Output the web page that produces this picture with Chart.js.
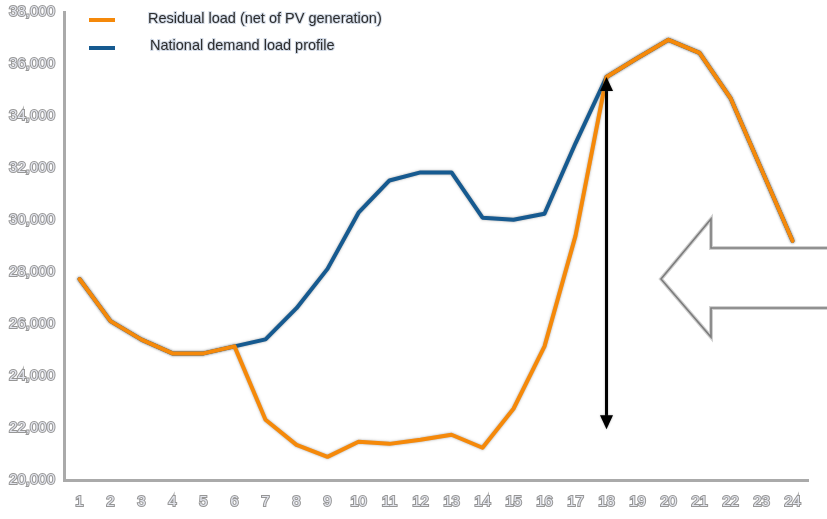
<!DOCTYPE html>
<html>
<head>
<meta charset="utf-8">
<script src="https://cdn.jsdelivr.net/npm/chart.js@4"></script>
<style>
  html, body { margin: 0; padding: 0; background: #ffffff; }
  #wrap { width: 827px; height: 519px; position: relative; }
</style>
</head>
<body>
<div id="wrap"><canvas id="c" width="827" height="519"></canvas></div>
<script>
// Hours of the day
const hours = ['1','2','3','4','5','6','7','8','9','10','11','12','13','14','15','16','17','18','19','20','21','22','23','24'];

// Residual load after PV generation (MW)
const residualLoad = [27730, 26110, 25400, 24870, 24870, 25140, 22320, 21350, 20890, 21470, 21390, 21550,
                      21740, 21240, 22740, 25140, 29390, 35500, 36230, 36930, 36430, 34690, 31940, 29200];

// National demand load profile (MW)
const nationalDemand = [27730, 26110, 25400, 24870, 24870, 25140, 25410, 26610, 28120, 30280, 31520, 31830,
                        31830, 30090, 30010, 30240, 32950, 35500, 36230, 36930, 36430, 34690, 31940, 29200];

// Y axis range and step
const yMin = 20000;
const yMax = 38000;
const yStep = 2000;

// Ramp arrow at hour 18: from evening peak down to the midday residual level
const rampHour = '18';
const rampTop = 35500;
const rampBottom = 21950;

const seriesNames = ['Residual load (net of PV generation)', 'National demand load profile'];
const ORANGE = '#f5890a';
const BLUE = '#165a90';

const haloPlugin = {
  id: 'halo',
  beforeDatasetDraw(chart) {
    const ctx = chart.ctx;
    ctx.save();
    ctx.shadowColor = 'rgba(90,90,90,0.55)';
    ctx.shadowBlur = 2.5;
  },
  afterDatasetDraw(chart) {
    chart.ctx.restore();
  }
};

const decorPlugin = {
  id: 'decor',
  afterDatasetsDraw(chart) {
    const ctx = chart.ctx;
    const x = chart.scales.x;
    const y = chart.scales.y;

    // vertical double-headed arrow
    const ax = x.getPixelForValue(hours.indexOf(rampHour));
    const yTop = y.getPixelForValue(rampTop);
    const yBot = y.getPixelForValue(rampBottom);
    ctx.save();
    ctx.shadowColor = 'rgba(90,90,90,0.5)';
    ctx.shadowBlur = 2;
    ctx.strokeStyle = '#000';
    ctx.fillStyle = '#000';
    ctx.lineWidth = 3;
    ctx.beginPath();
    ctx.moveTo(ax, yTop + 10);
    ctx.lineTo(ax, yBot - 10);
    ctx.stroke();
    ctx.beginPath();
    ctx.moveTo(ax, yTop);
    ctx.lineTo(ax - 6.5, yTop + 14);
    ctx.lineTo(ax + 6.5, yTop + 14);
    ctx.closePath();
    ctx.fill();
    ctx.beginPath();
    ctx.moveTo(ax, yBot);
    ctx.lineTo(ax - 6.5, yBot - 14);
    ctx.lineTo(ax + 6.5, yBot - 14);
    ctx.closePath();
    ctx.fill();
    ctx.restore();

    // large hollow arrow pointing left at the right edge
    const w = chart.width;
    ctx.save();
    ctx.beginPath();
    ctx.moveTo(w + 2, 248);
    ctx.lineTo(711, 248);
    ctx.lineTo(711, 219);
    ctx.lineTo(661, 279);
    ctx.lineTo(711, 337);
    ctx.lineTo(711, 308);
    ctx.lineTo(w + 2, 308);
    ctx.lineJoin = 'miter';
    ctx.fillStyle = '#ffffff';
    ctx.fill();
    ctx.strokeStyle = '#d0d0d0';
    ctx.lineWidth = 4;
    ctx.stroke();
    ctx.strokeStyle = '#7c7c7c';
    ctx.lineWidth = 1.6;
    ctx.stroke();
    ctx.restore();

    // legend
    const items = chart.data.datasets.map((d, i) => ({ label: d.label, color: d.borderColor, y: [20, 48][i], tx: [148, 150][i], ty: [19, 46][i] }));
    ctx.save();
    items.forEach(it => {
      ctx.fillStyle = it.color;
      ctx.fillRect(89, it.y - 2, 26, 4);
      ctx.font = '14.5px "Liberation Sans", Arial, sans-serif';
      ctx.textBaseline = 'middle';
      ctx.textAlign = 'left';
      ctx.lineWidth = 2;
      ctx.strokeStyle = 'rgba(200,210,225,0.8)';
      ctx.strokeText(it.label, it.tx, it.ty);
      ctx.fillStyle = '#2e2e2e';
      ctx.fillText(it.label, it.tx, it.ty);
    });
    ctx.restore();
  }
};

const tickFont = { family: '"Liberation Sans", Arial, sans-serif', size: 15 };

new Chart(document.getElementById('c'), {
  type: 'line',
  data: {
    labels: hours,
    datasets: [
      { label: seriesNames[0], data: residualLoad, borderColor: ORANGE, backgroundColor: ORANGE,
        borderWidth: 4, pointRadius: 0, tension: 0, borderCapStyle: 'round', borderJoinStyle: 'round', fill: false },
      { label: seriesNames[1], data: nationalDemand, borderColor: BLUE, backgroundColor: BLUE,
        borderWidth: 4, pointRadius: 0, tension: 0, borderCapStyle: 'round', borderJoinStyle: 'round', fill: false }
    ]
  },
  options: {
    responsive: false,
    animation: false,
    devicePixelRatio: 1,
    layout: { padding: { top: 12, right: 19, bottom: 0, left: 0 } },
    plugins: { legend: { display: false }, tooltip: { enabled: false } },
    scales: {
      x: {
        offset: true,
        grid: { display: false, drawTicks: false },
        border: { display: true, color: '#aaaaaa', width: 3 },
        ticks: { color: '#e4e6ee', textStrokeColor: '#969696', textStrokeWidth: 2, font: tickFont, padding: 13, maxRotation: 0, autoSkip: false },
        afterFit(s) { s.height = 39; s.paddingLeft = 0; s.paddingRight = 0; }
      },
      y: {
        min: yMin,
        max: yMax,
        grid: { display: false, drawTicks: false },
        border: { display: true, color: '#aaaaaa', width: 3 },
        ticks: {
          stepSize: yStep,
          color: '#e4e6ee', textStrokeColor: '#969696', textStrokeWidth: 2, font: tickFont, padding: 9,
          callback: v => v.toLocaleString('en-US')
        },
        afterFit(s) { s.width = 64; s.paddingTop = 0; s.paddingBottom = 0; }
      }
    }
  },
  plugins: [haloPlugin, decorPlugin]
});
</script>
</body>
</html>
